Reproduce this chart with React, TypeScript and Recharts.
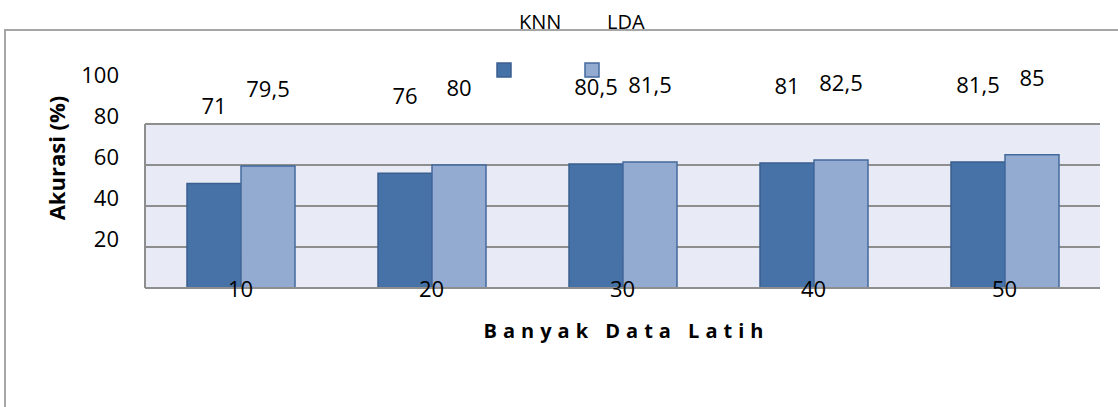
import React from 'react';
import { BarChart, Bar, XAxis, YAxis, CartesianGrid, LabelList, Legend } from 'recharts';

const categories = ['10', '20', '30', '40', '50'];
const knnValues = [71, 76, 80.5, 81, 81.5];
const ldaValues = [79.5, 80, 81.5, 82.5, 85];
const yTickValues = [40, 60, 80, 100, 120];
const yTickLabels = ['20', '40', '60', '80', '100'];
const gridValues = [40, 60, 80, 100];

const data = categories.map((c, i) => ({ name: c, KNN: knnValues[i], LDA: ldaValues[i] }));

const FONT = "'Open Sans', 'Liberation Sans', sans-serif";
const GRID = '#8E8E8E';
const KNN_FILL = '#4672A7';
const KNN_STROKE = '#3A5F8E';
const LDA_FILL = '#93ABD1';
const LDA_STROKE = '#436A9C';
const strokes: Record<string, string> = { KNN: KNN_STROKE, LDA: LDA_STROKE };
const legendTextX = [519, 607];
const legendSquareX = [497, 585];

const fmt = (v: any) => String(v).replace('.', ',');

const YTick = (props: any) => {
  const { x, y, payload, index } = props;
  const i = yTickValues.indexOf(payload.value);
  return (
    <text x={x} y={y} textAnchor="end" fontSize={22} fontFamily={FONT} fill="#000">
      {i >= 0 ? yTickLabels[i] : yTickLabels[index]}
    </text>
  );
};

const XTick = (props: any) => {
  const { x, y, payload } = props;
  return (
    <text x={x} y={y} dy={9} textAnchor="middle" fontSize={22} fontFamily={FONT} fill="#000">
      {payload.value}
    </text>
  );
};

const YTitle = (props: any) => {
  const vb = props.viewBox || { x: 0, y: 124 };
  const cx = vb.x + 65;
  const cy = vb.y + 34;
  return (
    <text x={cx} y={cy} transform={`rotate(-90 ${cx} ${cy})`} textAnchor="middle" fontSize={22} fontWeight="bold" fontFamily={FONT} fill="#000">
      Akurasi (%)
    </text>
  );
};

const XTitle = (props: any) => {
  const vb = props.viewBox || { x: 145, y: 288, width: 955 };
  const cx = vb.x + vb.width / 2 + 4;
  const cy = vb.y + 50;
  return (
    <text x={cx} y={cy} textAnchor="middle" fontSize={20} fontWeight="bold" fontFamily={FONT} letterSpacing={6} fill="#000">
      Banyak Data Latih
    </text>
  );
};

const LegendContent = (props: any) => {
  const payload = props.payload || [];
  return (
    <svg width={1118} height={100} style={{ position: 'absolute', left: 0, top: 0, overflow: 'visible' }}>
      {payload.map((p: any, i: number) => (
        <g key={p.value}>
          <rect x={legendSquareX[i]} y={63} width={14} height={14} fill={p.color} stroke={strokes[p.value]} strokeWidth={1.5} />
          <text x={legendTextX[i]} y={29} fontSize={20} fontFamily={FONT} fill="#000">
            {p.value}
          </text>
        </g>
      ))}
    </svg>
  );
};

export default function App() {
  return (
    <div style={{ position: 'absolute', left: 0, top: 0, width: 1118, height: 407, background: '#fff', overflow: 'hidden' }}>
      <div
        style={{
          position: 'absolute',
          left: 4,
          top: 29,
          width: 1114,
          height: 378,
          borderTop: '2px solid #A6A6A6',
          borderLeft: '2px solid #A6A6A6',
          boxSizing: 'border-box',
        }}
      />
      <div style={{ position: 'absolute', left: 0, top: 0 }}>
        <BarChart width={1118} height={407} data={data} margin={{ top: 124, right: 18, bottom: 59, left: 0 }} barGap={0}>
          <CartesianGrid horizontal vertical={false} horizontalValues={gridValues} stroke={GRID} strokeWidth={2} fill="#E8EBF5" fillOpacity={1} />
          <YAxis
            type="number"
            width={145}
            domain={[20, 100]}
            allowDataOverflow
            ticks={yTickValues}
            interval={0}
            tickSize={0}
            tickMargin={26}
            tickLine={false}
            axisLine={{ stroke: GRID, strokeWidth: 2 }}
            tick={<YTick />}
            label={YTitle}
          />
          <Legend layout="horizontal" verticalAlign="middle" align="center" wrapperStyle={{ position: 'absolute', left: 0, top: 0, width: 1118, height: 100 }} content={LegendContent} />
          <Bar dataKey="KNN" fill={KNN_FILL} stroke={KNN_STROKE} strokeWidth={1.5} barSize={54} isAnimationActive={false}>
            <LabelList dataKey="KNN" position="top" offset={69} formatter={fmt} fill="#000" fontSize={22} fontFamily={FONT} />
          </Bar>
          <Bar dataKey="LDA" fill={LDA_FILL} stroke={LDA_STROKE} strokeWidth={1.5} barSize={54} isAnimationActive={false}>
            <LabelList dataKey="LDA" position="top" offset={69} formatter={fmt} fill="#000" fontSize={22} fontFamily={FONT} />
          </Bar>
          <XAxis
            dataKey="name"
            height={60}
            interval={0}
            tickSize={0}
            tickMargin={0}
            tickLine={false}
            axisLine={{ stroke: GRID, strokeWidth: 2 }}
            tick={<XTick />}
            label={XTitle}
          />
        </BarChart>
      </div>
    </div>
  );
}
